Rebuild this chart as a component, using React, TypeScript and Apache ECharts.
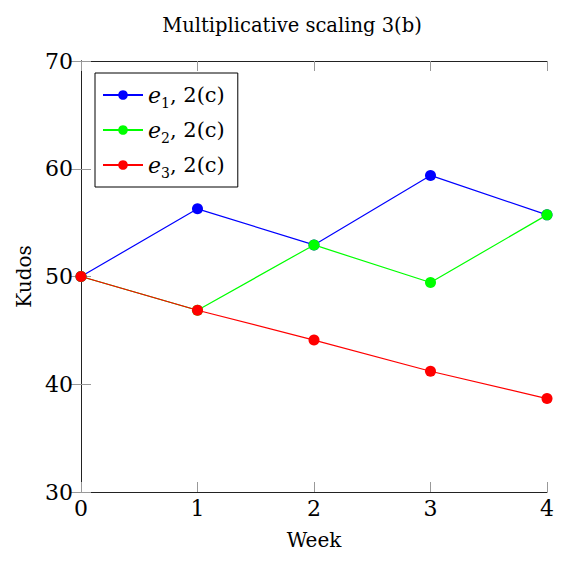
import React, { useEffect, useRef } from "react";
import * as echarts from "echarts";

const weeks = [0, 1, 2, 3, 4];
const e1 = [50, 56.28, 52.93, 59.38, 55.72];
const e2 = [50, 46.87, 52.93, 49.44, 55.72];
const e3 = [50, 46.87, 44.1, 41.21, 38.67];
const seriesNames = ["e1, 2(c)", "e2, 2(c)", "e3, 2(c)"];
const seriesColors = ["#0000ff", "#00ff00", "#ff0000"];
const seriesData = [e1, e2, e3];

const FONT = "'DejaVu Serif', 'Liberation Serif', serif";

export default function App() {
  const ref = useRef<HTMLDivElement>(null);
  useEffect(() => {
    document.body.style.margin = "0";
    const chart = echarts.init(ref.current!, null, { renderer: "svg" });
    const tickStyle = { show: true, inside: true, length: 10, lineStyle: { color: "#999", width: 1 } };
    const lineStyleAxis = { show: true, lineStyle: { color: "#222", width: 1 } };
    chart.setOption({
      animation: false,
      backgroundColor: "#fff",
      title: {
        text: "Multiplicative scaling 3(b)",
        left: 287,
        textAlign: "center",
        top: 10,
        textStyle: { fontFamily: FONT, fontSize: 19.5, fontWeight: "normal", color: "#000" },
      },
      legend: {
        orient: "vertical",
        left: 95,
        top: 73,
        itemWidth: 40,
        itemHeight: 12,
        itemGap: 9,
        backgroundColor: "#fff",
        borderColor: "#000",
        borderWidth: 1,
        borderRadius: 0,
        padding: [11, 13, 7, 7],
        data: seriesNames,
        formatter: (name: string) => {
          const idx = name.charAt(1);
          return `{i|e}{s|${idx}}{n|, 2(c)}`;
        },
        textStyle: {
          fontFamily: FONT,
          fontSize: 21,
          color: "#000",
          rich: {
            i: { fontFamily: FONT, fontSize: 22, fontStyle: "italic", lineHeight: 30, color: "#000" },
            s: { fontFamily: FONT, fontSize: 14, lineHeight: 16, verticalAlign: "bottom", color: "#000" },
            n: { fontFamily: FONT, fontSize: 21, lineHeight: 30, color: "#000" },
          },
        },
      },
      grid: { left: 81, right: 14, top: 61, bottom: 75 },
      xAxis: [
        {
          type: "value",
          min: 0,
          max: 4,
          interval: 1,
          position: "bottom",
          name: "Week",
          nameLocation: "middle",
          nameGap: 38,
          nameTextStyle: { fontFamily: FONT, fontSize: 20, color: "#000" },
          axisLine: lineStyleAxis,
          axisTick: tickStyle,
          splitLine: { show: false },
          axisLabel: { fontFamily: FONT, fontSize: 22, color: "#000", margin: 5 },
        },
        {
          type: "value",
          min: 0,
          max: 4,
          interval: 1,
          position: "top",
          axisLine: lineStyleAxis,
          axisTick: tickStyle,
          splitLine: { show: false },
          axisLabel: { show: false },
        },
      ],
      yAxis: [
        {
          type: "value",
          min: 30,
          max: 70,
          interval: 10,
          position: "left",
          name: "Kudos",
          nameLocation: "middle",
          nameGap: 47,
          nameTextStyle: { fontFamily: FONT, fontSize: 20, color: "#000" },
          axisLine: lineStyleAxis,
          axisTick: tickStyle,
          splitLine: { show: false },
          axisLabel: { fontFamily: FONT, fontSize: 22, color: "#000", margin: 8 },
        },
        {
          type: "value",
          min: 30,
          max: 70,
          interval: 10,
          position: "right",
          axisLine: lineStyleAxis,
          axisTick: tickStyle,
          splitLine: { show: false },
          axisLabel: { show: false },
        },
      ],
      series: seriesNames.map((name, i) => ({
        name,
        type: "line",
        xAxisIndex: 0,
        yAxisIndex: 0,
        data: weeks.map((w, j) => [w, seriesData[i][j]]),
        symbol: "circle",
        symbolSize: 11,
        itemStyle: { color: seriesColors[i] },
        lineStyle: { color: seriesColors[i], width: 1.2 },
        z: 2 + i,
      })),
    });
    return () => chart.dispose();
  }, []);
  return <div ref={ref} style={{ width: 561, height: 567 }} />;
}
